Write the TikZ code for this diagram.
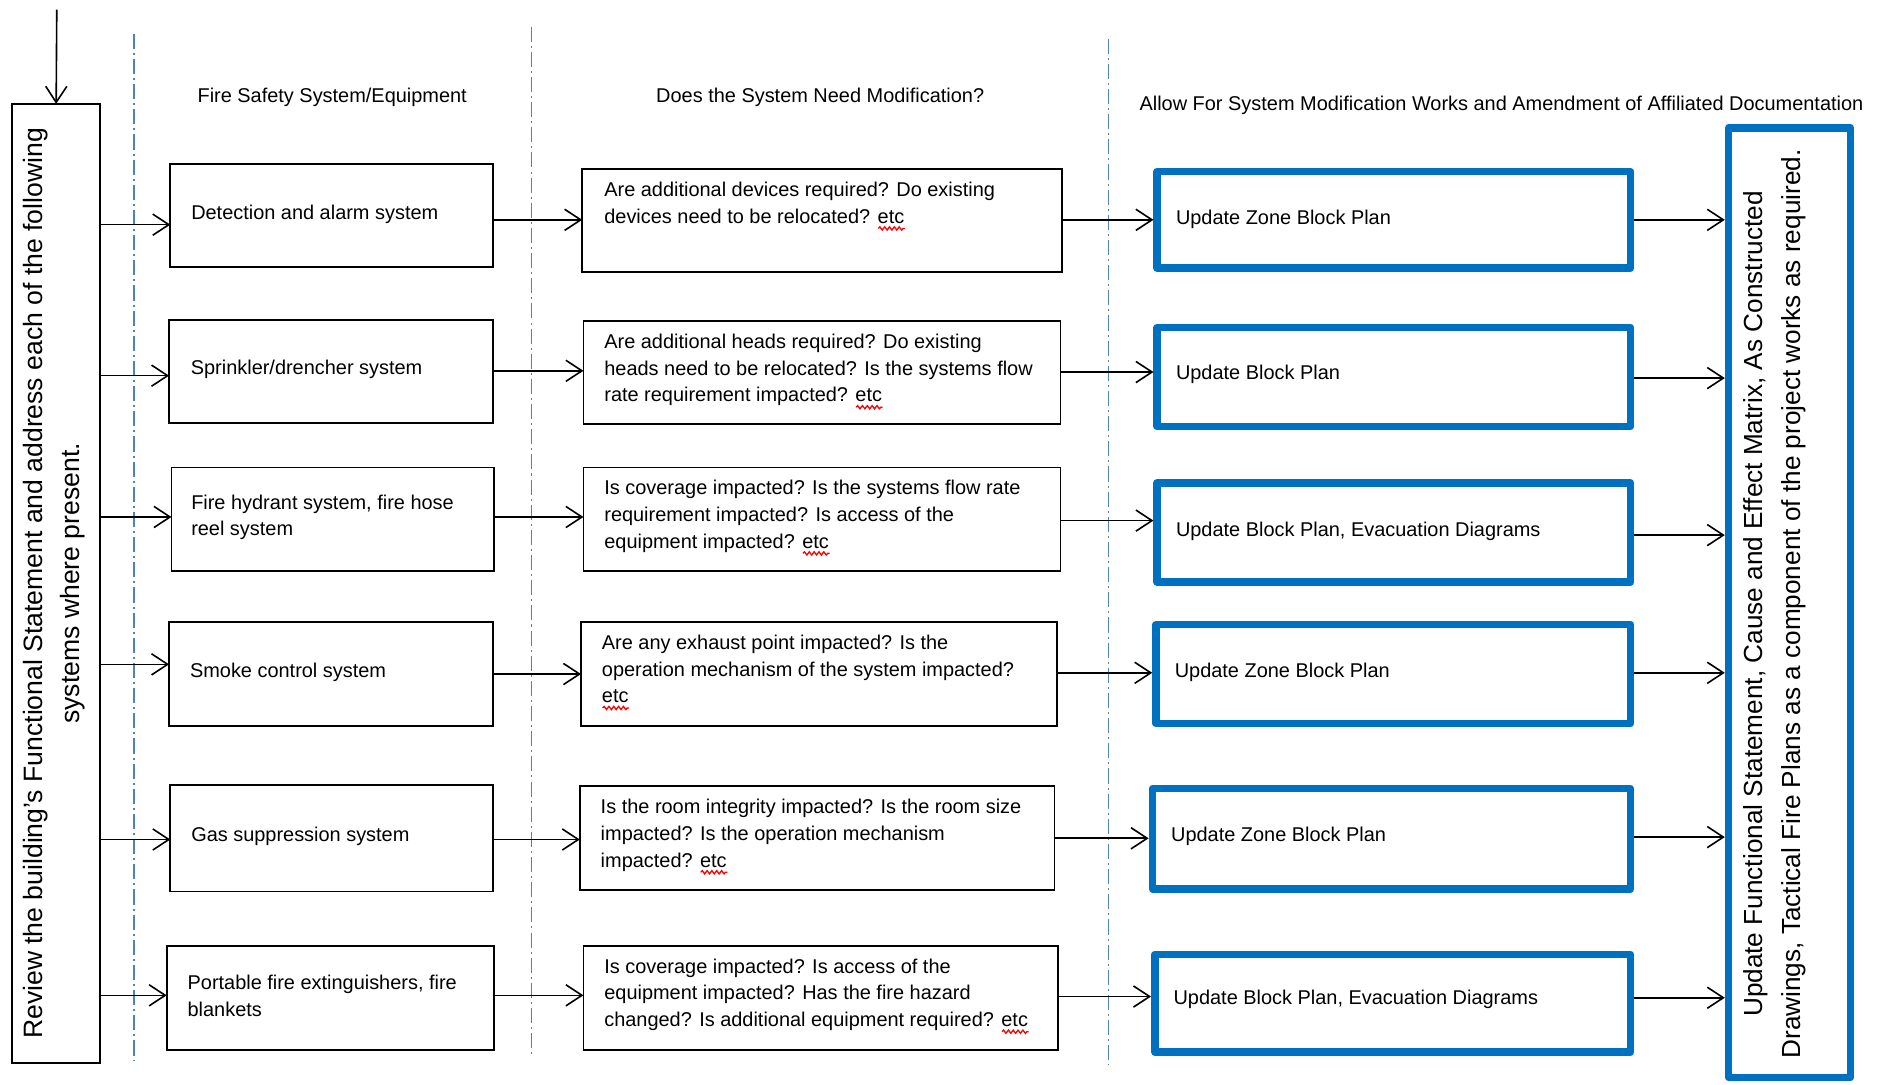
\documentclass[tikz,border=0pt]{standalone}
\usepackage{fontspec}
\setmainfont{Liberation Sans}
\usetikzlibrary{arrows.meta,decorations.pathmorphing}
\definecolor{ublue}{RGB}{0,112,192}
\definecolor{dblue}{RGB}{79,129,189}
\newcommand\etcw{\leavevmode\rlap{\tikz[baseline=0pt,x=1pt,y=1pt]\draw[red,line width=0.65pt,decorate,decoration={snake,amplitude=0.8pt,segment length=2.4pt}] (0,-2.6) -- (13.2,-2.6);}etc}
\tikzset{
  sbox/.style 2 args={draw, line width=0.9pt, minimum width=#1*0.6pt, minimum height=#2*0.6pt, inner sep=0pt, outer sep=0pt},
  ubox/.style 2 args={draw=ublue, line width=3.7pt, line join=round, minimum width=#1*0.6pt, minimum height=#2*0.6pt, inner sep=0pt, outer sep=1.85pt},
  txt/.style={font=\fontsize{9.9}{13.2}\selectfont, inner sep=0pt, align=left},
  big/.style={font=\fontsize{13.2}{18.6}\selectfont, inner sep=0pt, align=center, rotate=90},
  bigr/.style={font=\fontsize{13}{18.8}\selectfont, inner sep=0pt, align=center, rotate=90},
  arr/.style={line width=0.8pt, -{Straight Barb[length=8pt,width=10.5pt,line width=0.8pt]}},
  lane/.style={draw=dblue, line width=0.6pt, dash pattern=on 7.5pt off 2pt on 1pt off 2pt}
}
\begin{document}
\begin{tikzpicture}[x=0.6pt,y=-0.6pt]
\useasboundingbox (0,0) rectangle (1568,898);

% lanes
\coordinate (l1a) at (111,28);  \coordinate (l1b) at (111,878);
\coordinate (l2a) at (440,22);  \coordinate (l2b) at (440,876);
\coordinate (l3a) at (918,32);  \coordinate (l3b) at (918,882);
\draw[lane] (l1a) -- (l1b);
\draw[lane] (l2a) -- (l2b);
\draw[lane] (l3a) -- (l3b);

% headers
\node[txt] (h1) at (275,81) {Fire Safety System/Equipment};
\node[txt] (h2) at (679,81) {Does the System Need Modification?};
\node[txt] (h3) at (1243,87) {Allow For System Modification Works and Amendment of Affiliated Documentation};

% left box
\node[sbox={73}{794}] (L) at (46.5,483) {};
\node[big] (Lt) at (45,483) {Review the building’s Functional Statement and address each of the following\\systems where present.};
\coordinate (top) at (47,8);
\draw[arr] (top) -- (L.north);

% right box
\node[ubox={101}{786}] (R) at (1481.5,499) {};
\node[bigr] (Rt) at (1469,500) {Update Functional Statement, Cause and Effect Matrix, As Constructed\\Drawings, Tactical Fire Plans as a component of the project works as required.};

% column 1
\node[sbox={267}{85}] (a1) at (274.5,178.5) {};
\node[sbox={268}{85}] (a2) at (274,307.5) {};
\node[sbox={267}{86}] (a3) at (275.5,430) {};
\node[sbox={268}{86}] (a4) at (274,558) {};
\node[sbox={267}{88}] (a5) at (274.5,694) {};
\node[sbox={271}{86}] (a6) at (273.5,826) {};
\node[txt,anchor=west] (a1t) at ([xshift=10.2pt,yshift=0.8pt]a1.west) {Detection and alarm system};
\node[txt,anchor=west] (a2t) at ([xshift=10.6pt,yshift=1pt]a2.west) {Sprinkler/drencher system};
\node[txt,anchor=west] (a3t) at ([xshift=9.6pt,yshift=1pt]a3.west) {Fire hydrant system, fire hose\\reel system};
\node[txt,anchor=west] (a4t) at ([xshift=10.2pt,yshift=1pt]a4.west) {Smoke control system};
\node[txt,anchor=west] (a5t) at ([xshift=10.2pt,yshift=1pt]a5.west) {Gas suppression system};
\node[txt,anchor=west] (a6t) at ([xshift=10.2pt,yshift=1pt]a6.west) {Portable fire extinguishers, fire\\blankets};

% column 2
\node[sbox={397}{85}] (b1) at (680.5,182.5) {};
\node[sbox={395}{85}] (b2) at (680.5,308.5) {};
\node[sbox={395}{86}] (b3) at (680.5,430) {};
\node[sbox={394}{86}] (b4) at (678,558) {};
\node[sbox={393}{86}] (b5) at (676.5,694) {};
\node[sbox={393}{86}] (b6) at (679.5,826) {};
\node[txt,anchor=north west] (b1t) at ([xshift=10.8pt,yshift=-6.3pt]b1.north west) {Are additional devices required? Do existing\\devices need to be relocated? \etcw};
\node[txt,anchor=north west] (b2t) at ([xshift=10.2pt,yshift=-6.3pt]b2.north west) {Are additional heads required? Do existing\\heads need to be relocated? Is the systems flow\\rate requirement impacted? \etcw};
\node[txt,anchor=north west] (b3t) at ([xshift=10.2pt,yshift=-6.3pt]b3.north west) {Is coverage impacted? Is the systems flow rate\\requirement impacted? Is access of the\\equipment impacted? \etcw};
\node[txt,anchor=north west] (b4t) at ([xshift=10.2pt,yshift=-6.3pt]b4.north west) {Are any exhaust point impacted? Is the\\operation mechanism of the system impacted?\\\etcw};
\node[txt,anchor=north west] (b5t) at ([xshift=10.2pt,yshift=-6.3pt]b5.north west) {Is the room integrity impacted? Is the room size\\impacted? Is the operation mechanism\\impacted? \etcw};
\node[txt,anchor=north west] (b6t) at ([xshift=10.2pt,yshift=-6.3pt]b6.north west) {Is coverage impacted? Is access of the\\equipment impacted? Has the fire hazard\\changed? Is additional equipment required? \etcw};

% column 3
\node[ubox={392}{80}] (c1) at (1154,182) {};
\node[ubox={392}{82}] (c2) at (1154,312) {};
\node[ubox={392}{82}] (c3) at (1154,441) {};
\node[ubox={393}{82}] (c4) at (1153.5,558) {};
\node[ubox={396}{83}] (c5) at (1152,694.5) {};
\node[ubox={394}{81}] (c6) at (1153,830.5) {};
\node[txt,anchor=west] (c1t) at ([xshift=11pt]c1.west) {Update Zone Block Plan};
\node[txt,anchor=west] (c2t) at ([xshift=11pt,yshift=1.5pt]c2.west) {Update Block Plan};
\node[txt,anchor=west] (c3t) at ([xshift=11pt,yshift=0.5pt]c3.west) {Update Block Plan, Evacuation Diagrams};
\node[txt,anchor=west] (c4t) at ([xshift=11pt,yshift=1pt]c4.west) {Update Zone Block Plan};
\node[txt,anchor=west] (c5t) at ([xshift=11pt,yshift=1.5pt]c5.west) {Update Zone Block Plan};
\node[txt,anchor=west] (c6t) at ([xshift=11pt,yshift=2pt]c6.west) {Update Block Plan, Evacuation Diagrams};

% connectors L -> column 1
\draw[arr] (L.east |- 0,186) -- (a1.west |- 0,186);
\draw[arr] (L.east |- 0,311) -- (a2.west |- 0,311);
\draw[arr] (L.east |- 0,428) -- (a3.west |- 0,428);
\draw[arr] (L.east |- 0,550) -- (a4.west |- 0,550);
\draw[arr] (L.east |- 0,695) -- (a5.west |- 0,695);
\draw[arr] (L.east |- 0,824) -- (a6.west |- 0,824);

% column 1 -> column 2
\draw[arr] (a1.east |- 0,182) -- (b1.west |- 0,182);
\draw[arr] (a2.east |- 0,307) -- (b2.west |- 0,307);
\draw[arr] (a3.east |- 0,428) -- (b3.west |- 0,428);
\draw[arr] (a4.east |- 0,558) -- (b4.west |- 0,558);
\draw[arr] (a5.east |- 0,695) -- (b5.west |- 0,695);
\draw[arr] (a6.east |- 0,824) -- (b6.west |- 0,824);

% column 2 -> column 3
\draw[arr] (b1.east |- 0,182) -- (c1.west |- 0,182);
\draw[arr] (b2.east |- 0,308) -- (c2.west |- 0,308);
\draw[arr] (b3.east |- 0,431) -- (c3.west |- 0,431);
\draw[arr] (b4.east |- 0,557) -- (c4.west |- 0,557);
\draw[arr] (b5.east |- 0,694) -- (c5.west |- 0,694);
\draw[arr] (b6.east |- 0,825) -- (c6.west |- 0,825);

% column 3 -> right box
\draw[arr] (c1.east |- 0,182) -- (R.west |- 0,182);
\draw[arr] (c2.east |- 0,313) -- (R.west |- 0,313);
\draw[arr] (c3.east |- 0,443) -- (R.west |- 0,443);
\draw[arr] (c4.east |- 0,557) -- (R.west |- 0,557);
\draw[arr] (c5.east |- 0,693) -- (R.west |- 0,693);
\draw[arr] (c6.east |- 0,826) -- (R.west |- 0,826);
\end{tikzpicture}
\end{document}
